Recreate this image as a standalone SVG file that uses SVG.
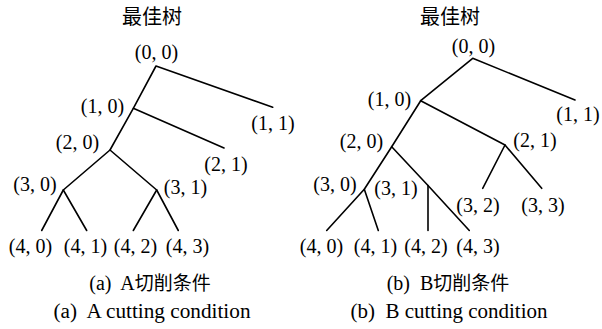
<svg xmlns="http://www.w3.org/2000/svg" width="602" height="329" viewBox="0 0 602 329">
<style>
.e{stroke:#000;stroke-width:1.6;fill:none;stroke-linecap:round;stroke-linejoin:round}
.l{font-size:20px}
.c{font-size:20px;white-space:pre}
</style>
<rect x="0" y="0" width="602" height="329" fill="#fff"/>
<g id="edges">
<polyline class="e" points="272.7,107.3 156,66 133.3,108.3 224,148"/>
<polyline class="e" points="133.3,108.3 110,150 63.3,190 41.7,230.5"/>
<polyline class="e" points="110,150 156.7,190 178.3,230.5"/>
<line class="e" x1="63.3" y1="190" x2="86.7" y2="230.5"/>
<line class="e" x1="156.7" y1="190" x2="133.3" y2="230.5"/>
<polyline class="e" points="575,100 472.7,58.3 420.7,100.7 505,145 541.7,188.3"/>
<line class="e" x1="505" y1="145" x2="482.7" y2="188.3"/>
<polyline class="e" points="420.7,100.7 391.7,146.7 364.3,189.3 326.7,230.5"/>
<line class="e" x1="364.3" y1="189.3" x2="378.3" y2="230.5"/>
<polyline class="e" points="391.7,146.7 428,185.5 469.3,230.5"/>
<line class="e" x1="428" y1="185.5" x2="428" y2="230.5"/>
</g>
<g id="panel-a" font-family="'Liberation Serif', 'Noto Sans CJK SC', serif" text-anchor="middle" fill="#000">
<text font-family="'Noto Sans CJK SC', sans-serif" font-size="20" x="152" y="24">最佳树</text>
<g id="a-00"><text class="l" x="156.5" y="58.5">(0, 0)</text></g>
<g id="a-10"><text class="l" x="102.5" y="113">(1, 0)</text></g>
<g id="a-11"><text class="l" x="273" y="130">(1, 1)</text></g>
<g id="a-20"><text class="l" x="77.5" y="148.5">(2, 0)</text></g>
<g id="a-21"><text class="l" x="226" y="171">(2, 1)</text></g>
<g id="a-30"><text class="l" x="35" y="191">(3, 0)</text></g>
<g id="a-31"><text class="l" x="185.5" y="194">(3, 1)</text></g>
<g id="a-40"><text class="l" x="30.5" y="252.5">(4, 0)</text></g>
<g id="a-41"><text class="l" x="85.5" y="252.5">(4, 1)</text></g>
<g id="a-42"><text class="l" x="135.5" y="252.5">(4, 2)</text></g>
<g id="a-43"><text class="l" x="187.5" y="252.5">(4, 3)</text></g>
<text class="c" x="150" y="290">(a)  A<tspan font-family="'Noto Sans CJK SC', sans-serif" font-size="19">切削条件</tspan></text>
<text class="c" x="152" y="318" textLength="197" lengthAdjust="spacingAndGlyphs">(a)  A cutting condition</text>
</g>
<g id="panel-b" font-family="'Liberation Serif', 'Noto Sans CJK SC', serif" text-anchor="middle" fill="#000">
<text font-family="'Noto Sans CJK SC', sans-serif" font-size="20" x="450" y="24">最佳树</text>
<g id="b-00"><text class="l" x="473.5" y="53">(0, 0)</text></g>
<g id="b-10"><text class="l" x="389.5" y="106">(1, 0)</text></g>
<g id="b-11"><text class="l" x="578" y="121">(1, 1)</text></g>
<g id="b-20"><text class="l" x="361.5" y="148">(2, 0)</text></g>
<g id="b-21"><text class="l" x="535" y="147">(2, 1)</text></g>
<g id="b-30"><text class="l" x="335" y="190.5">(3, 0)</text></g>
<g id="b-31"><text class="l" x="396" y="195">(3, 1)</text></g>
<g id="b-32"><text class="l" x="478" y="211.5">(3, 2)</text></g>
<g id="b-33"><text class="l" x="543" y="211.5">(3, 3)</text></g>
<g id="b-40"><text class="l" x="321.5" y="252.5">(4, 0)</text></g>
<g id="b-41"><text class="l" x="375.5" y="252.5">(4, 1)</text></g>
<g id="b-42"><text class="l" x="426" y="252.5">(4, 2)</text></g>
<g id="b-43"><text class="l" x="478" y="252.5">(4, 3)</text></g>
<text class="c" x="448" y="290">(b)  B<tspan font-family="'Noto Sans CJK SC', sans-serif" font-size="19">切削条件</tspan></text>
<text class="c" x="449" y="318" textLength="197" lengthAdjust="spacingAndGlyphs">(b)  B cutting condition</text>
</g>
</svg>
